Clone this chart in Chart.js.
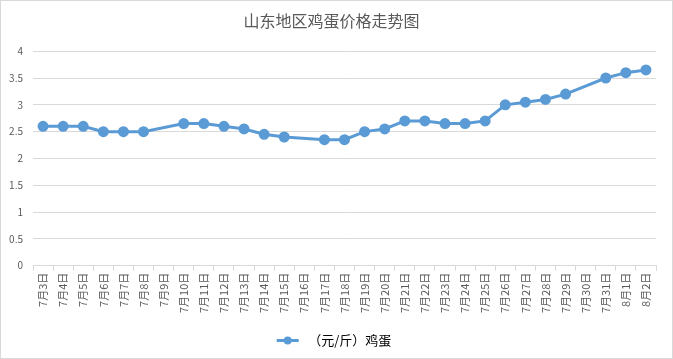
<!DOCTYPE html>
<html><head><meta charset="utf-8">
<script src="https://cdn.jsdelivr.net/npm/chart.js@4/dist/chart.umd.min.js"></script>
<style>
html,body{margin:0;padding:0;background:#fff;}
#wrap{width:673px;height:359px;box-sizing:border-box;border:1px solid #d9d9d9;position:relative;}
canvas{display:block;}
</style></head><body>
<div id="wrap"><canvas id="c" width="671" height="357"></canvas></div>
<script>
const categories = ["7月3日","7月4日","7月5日","7月6日","7月7日","7月8日","7月9日","7月10日","7月11日","7月12日","7月13日","7月14日","7月15日","7月16日","7月17日","7月18日","7月19日","7月20日","7月21日","7月22日","7月23日","7月24日","7月25日","7月26日","7月27日","7月28日","7月29日","7月30日","7月31日","8月1日","8月2日"];
const eggPrices = [2.6,2.6,2.6,2.5,2.5,2.5,null,2.65,2.65,2.6,2.55,2.45,2.4,null,2.35,2.35,2.5,2.55,2.7,2.7,2.65,2.65,2.7,3.0,3.05,3.1,3.2,null,3.5,3.6,3.65];
const seriesName = "（元/斤）鸡蛋";
const chartTitle = "山东地区鸡蛋价格走势图";
const yTicks = [0,0.5,1,1.5,2,2.5,3,3.5,4];

const FONT = '"Noto Sans CJK SC", "Noto Sans", sans-serif';
const txt = '#595959';
const lineColor = '#5b9bd5';
new Chart(document.getElementById('c'), {
  type: 'line',
  data: { labels: categories, datasets: [{
    label: seriesName, data: eggPrices, spanGaps: true,
    borderColor: lineColor, backgroundColor: lineColor,
    borderWidth: 3, pointRadius: 4, pointHoverRadius: 4,
    pointBackgroundColor: lineColor, pointBorderColor: lineColor, tension: 0
  }]},
  options: {
    responsive: false, animation: false,
    layout: { padding: { left: 6, right: 16, top: 8, bottom: 1 } },
    plugins: {
      title: { display: true, text: chartTitle, color: txt,
        font: { family: FONT, size: 16, weight: 'normal' }, padding: { top: 2, bottom: 21 } },
      legend: { display: true, position: 'bottom',
        labels: { color: txt, font: { family: FONT, size: 13 }, usePointStyle: false,
          boxWidth: 30, boxHeight: 3, padding: 10,
          generateLabels(chart) {
            const ds = chart.data.datasets[0];
            return [{ text: ds.label, fillStyle: 'rgba(0,0,0,0)', strokeStyle: 'rgba(0,0,0,0)', lineWidth: 0, datasetIndex: 0 }];
          }
        } },
      tooltip: { enabled: false }
    },
    scales: {
      x: {
        offset: true,
        afterFit(s) { s.height = s.height + 9; },
        grid: { display: true, drawOnChartArea: false, drawTicks: true, tickLength: 5, color: '#d9d9d9', offset: true },
        border: { display: true, color: '#d9d9d9' },
        ticks: { color: txt, font: { family: FONT, size: 11 }, minRotation: 90, maxRotation: 90, autoSkip: false, padding: 2 }
      },
      y: {
        min: 0, max: 4,
        afterBuildTicks(s) { s.ticks = yTicks.map(v => ({ value: v })); },
        afterFit(s) { s.width = 26; },
        grid: { color: '#d9d9d9', drawTicks: false },
        border: { display: false },
        ticks: { color: txt, font: { family: FONT, size: 10 }, padding: 10, callback: v => String(v) }
      }
    }
  },
  plugins: [{
    id: 'legendMarker',
    afterDraw(chart) {
      const lg = chart.legend;
      if (!lg || !lg.legendHitBoxes.length) return;
      const b = lg.legendHitBoxes[0];
      const ctx = chart.ctx;
      const cy = b.top + b.height / 2;
      const x0 = b.left + 5;
      ctx.save();
      ctx.strokeStyle = lineColor;
      ctx.lineWidth = 3;
      ctx.beginPath();
      ctx.moveTo(x0, cy);
      ctx.lineTo(x0 + 22, cy);
      ctx.stroke();
      ctx.fillStyle = lineColor;
      ctx.beginPath();
      ctx.arc(x0 + 11, cy, 4, 0, Math.PI * 2);
      ctx.fill();
      ctx.restore();
    }
  }]
});
</script>
</body></html>
